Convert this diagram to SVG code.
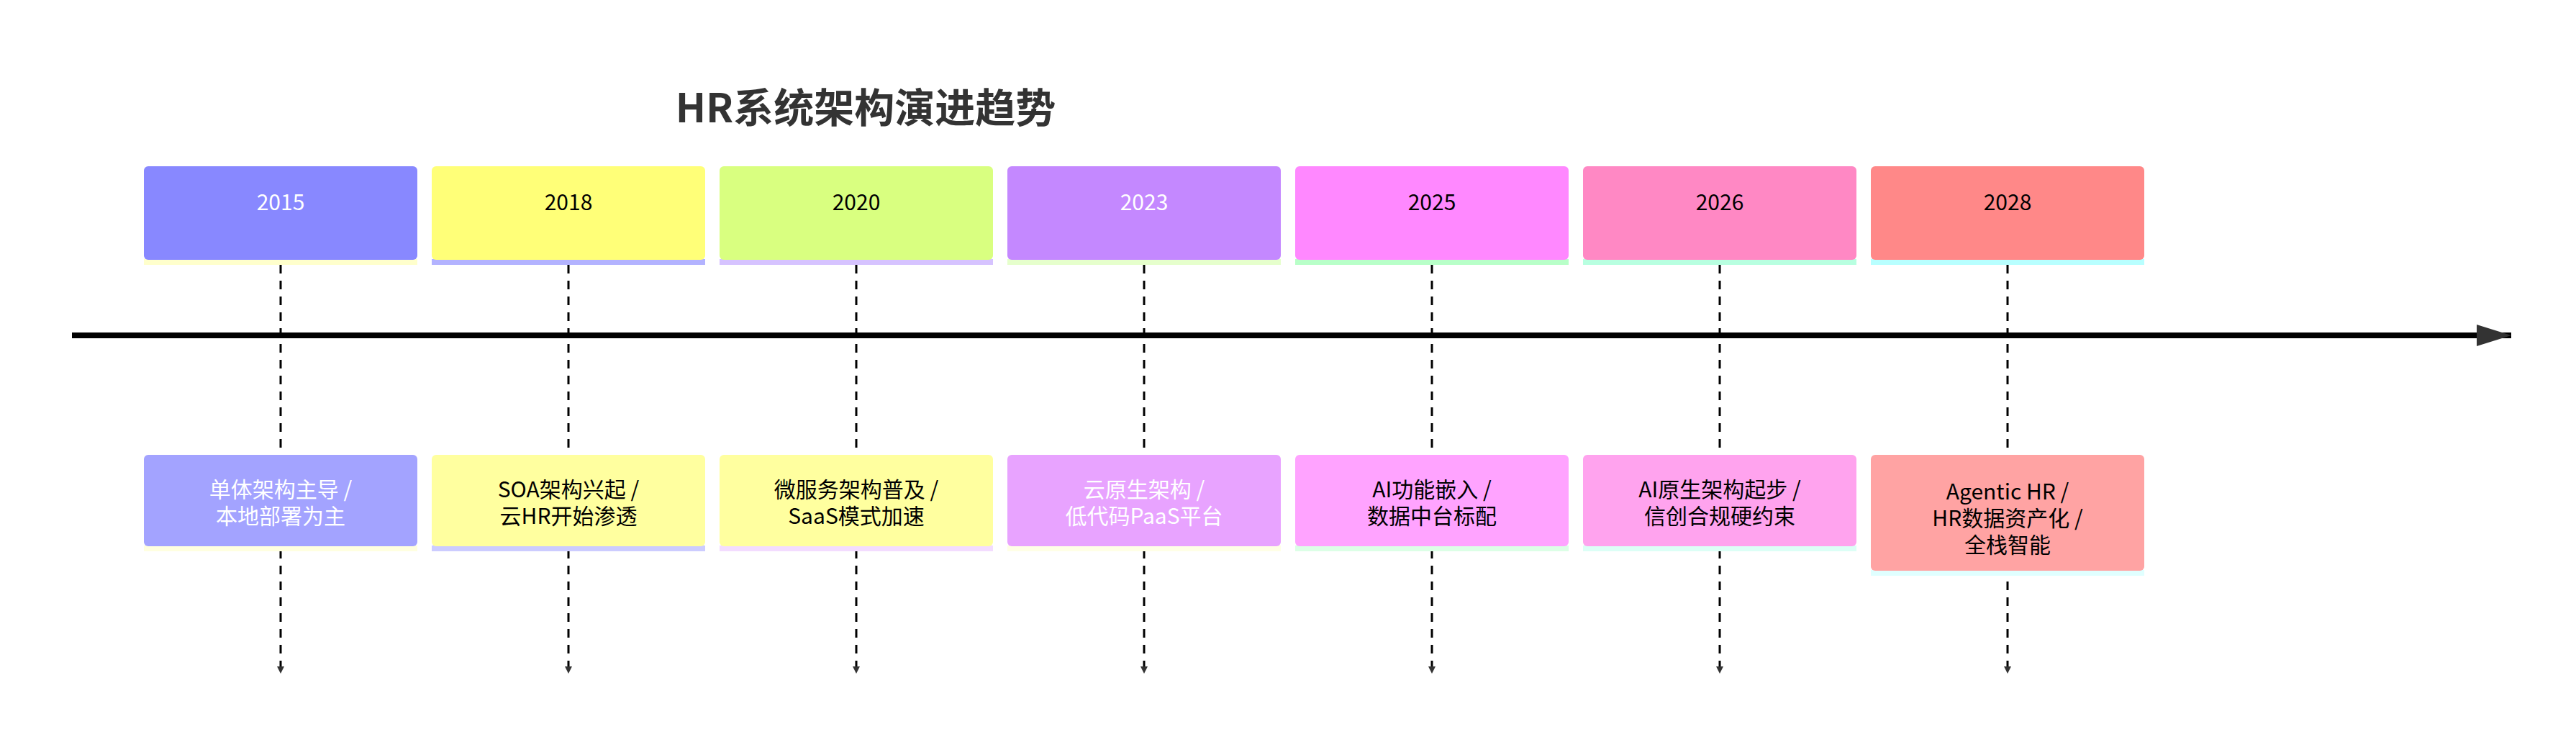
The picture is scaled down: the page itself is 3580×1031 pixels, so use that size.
<svg xmlns="http://www.w3.org/2000/svg" width="3580" height="1031" viewBox="0 0 3580 1031">
<style>
text{font-family:"Noto Sans CJK SC","Liberation Sans",sans-serif;text-anchor:middle}
.y{font-size:30px}
.t{font-size:30px}
.w{fill:#ffffff}
.k{fill:#000000}
.dash{stroke:#000;stroke-width:3;stroke-dasharray:12 10;fill:none}
</style>
<defs>
<marker id="ah" viewBox="0 0 10 10" refX="10" refY="5" markerWidth="10" markerHeight="10" markerUnits="userSpaceOnUse" orient="auto"><path d="M0,0L10,5L0,10z" fill="#333"/></marker>
<marker id="big" viewBox="0 0 10 10" refX="10" refY="5" markerWidth="48" markerHeight="30" markerUnits="userSpaceOnUse" orient="auto" preserveAspectRatio="none"><path d="M0,0L10,5L0,10z" fill="#333"/></marker>
</defs>
<text x="1203" y="170" style="font-size:56px;font-weight:bold;fill:#333">HR系统架构演进趋势</text>
<g id="connectors">
<line x1="100" y1="466" x2="3490" y2="466" stroke="#000" stroke-width="8" marker-end="url(#big)"/>
<line class="dash" x1="390" y1="368" x2="390" y2="936" marker-end="url(#ah)"/>
<line class="dash" x1="790" y1="368" x2="790" y2="936" marker-end="url(#ah)"/>
<line class="dash" x1="1190" y1="368" x2="1190" y2="936" marker-end="url(#ah)"/>
<line class="dash" x1="1590" y1="368" x2="1590" y2="936" marker-end="url(#ah)"/>
<line class="dash" x1="1990" y1="368" x2="1990" y2="936" marker-end="url(#ah)"/>
<line class="dash" x1="2390" y1="368" x2="2390" y2="936" marker-end="url(#ah)"/>
<line class="dash" x1="2790" y1="368" x2="2790" y2="936" marker-end="url(#ah)"/>
</g>
<g id="y2015"><rect x="200" y="360" width="380" height="8" fill="#ffffcc"/><rect x="200" y="231" width="380" height="130" rx="6" fill="#8888ff"/><text class="y w" x="390" y="292">2015</text></g>
<g id="y2018"><rect x="600" y="360" width="380" height="8" fill="#b3b3ff"/><rect x="600" y="231" width="380" height="130" rx="6" fill="#ffff78"/><text class="y k" x="790" y="292">2018</text></g>
<g id="y2020"><rect x="1000" y="360" width="380" height="8" fill="#d6c3ff"/><rect x="1000" y="231" width="380" height="130" rx="6" fill="#d9ff80"/><text class="y k" x="1190" y="292">2020</text></g>
<g id="y2023"><rect x="1400" y="360" width="380" height="8" fill="#e6ffcc"/><rect x="1400" y="231" width="380" height="130" rx="6" fill="#c488ff"/><text class="y w" x="1590" y="292">2023</text></g>
<g id="y2025"><rect x="1800" y="360" width="380" height="8" fill="#b8ffc8"/><rect x="1800" y="231" width="380" height="130" rx="6" fill="#ff88ff"/><text class="y k" x="1990" y="292">2025</text></g>
<g id="y2026"><rect x="2200" y="360" width="380" height="8" fill="#b8ffe0"/><rect x="2200" y="231" width="380" height="130" rx="6" fill="#ff88c4"/><text class="y k" x="2390" y="292">2026</text></g>
<g id="y2028"><rect x="2600" y="360" width="380" height="8" fill="#b8ffff"/><rect x="2600" y="231" width="380" height="130" rx="6" fill="#ff8888"/><text class="y k" x="2790" y="292">2028</text></g>
<g id="e2015"><rect x="200" y="758" width="380" height="8" fill="#ffffe0"/><rect x="200" y="632" width="380" height="127" rx="6" fill="#a3a3ff"/><text class="t w" x="390" y="691">单体架构主导 /</text><text class="t w" x="390" y="728">本地部署为主</text></g>
<g id="e2018"><rect x="600" y="758" width="380" height="8" fill="#ccccff"/><rect x="600" y="632" width="380" height="127" rx="6" fill="#ffff9f"/><text class="t k" x="790" y="691">SOA架构兴起 /</text><text class="t k" x="790" y="728">云HR开始渗透</text></g>
<g id="e2020"><rect x="1000" y="758" width="380" height="8" fill="#f3dcff"/><rect x="1000" y="632" width="380" height="127" rx="6" fill="#ffff9f"/><text class="t k" x="1190" y="691">微服务架构普及 /</text><text class="t k" x="1190" y="728">SaaS模式加速</text></g>
<g id="e2023"><rect x="1400" y="758" width="380" height="8" fill="#ffffe6"/><rect x="1400" y="632" width="380" height="127" rx="6" fill="#e8a3ff"/><text class="t w" x="1590" y="691">云原生架构 /</text><text class="t w" x="1590" y="728">低代码PaaS平台</text></g>
<g id="e2025"><rect x="1800" y="758" width="380" height="8" fill="#dcffe6"/><rect x="1800" y="632" width="380" height="127" rx="6" fill="#ffa3ff"/><text class="t k" x="1990" y="691">AI功能嵌入 /</text><text class="t k" x="1990" y="728">数据中台标配</text></g>
<g id="e2026"><rect x="2200" y="758" width="380" height="8" fill="#dcfff6"/><rect x="2200" y="632" width="380" height="127" rx="6" fill="#ffa3ee"/><text class="t k" x="2390" y="691">AI原生架构起步 /</text><text class="t k" x="2390" y="728">信创合规硬约束</text></g>
<g id="e2028"><rect x="2600" y="792" width="380" height="8" fill="#e0ffff"/><rect x="2600" y="632" width="380" height="161" rx="6" fill="#ffa3a3"/><text class="t k" x="2790" y="694">Agentic HR /</text><text class="t k" x="2790" y="731">HR数据资产化 /</text><text class="t k" x="2790" y="768">全栈智能</text></g>
</svg>
